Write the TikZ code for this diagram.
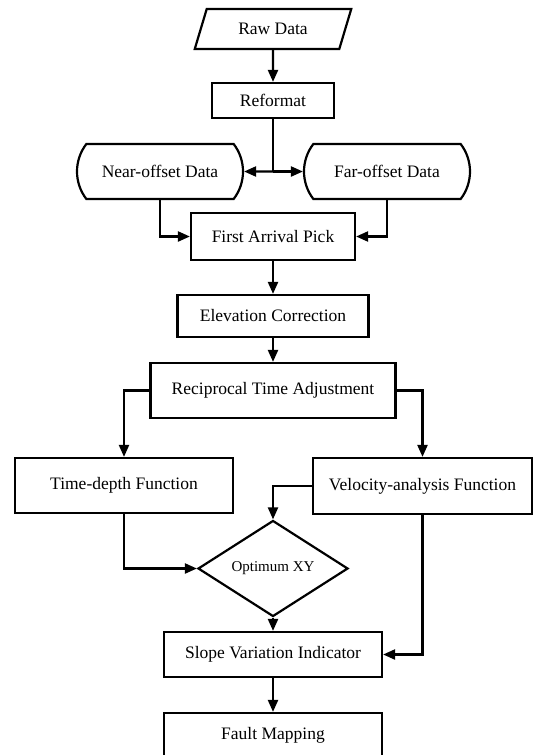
\documentclass[tikz,border=0pt]{standalone}
\usepackage{fontspec}
\setmainfont{Liberation Serif}
\usepackage{tikz}
\usetikzlibrary{
  arrows.meta,
  shapes,
  shapes.geometric,
  shapes.misc,
  positioning,
  calc
}
\tikzset{
  fcnode/.style={
    draw, line width=2.2pt, font=\fontsize{17.5}{20}\selectfont, align=center, inner sep=2pt
  },
  fcbox/.style={fcnode, rectangle},
  fcio/.style={fcnode, trapezium, trapezium left angle=67, trapezium right angle=113,
    trapezium stretches=true},
  fcstore/.style={fcnode, rounded rectangle, rounded rectangle arc length=75},
  fcdecide/.style={fcnode, diamond, font=\fontsize{15}{18}\selectfont, inner sep=0pt},
  flow/.style={-{Triangle[length=12pt, width=10pt]}, line width=2.2pt},
  link/.style={line width=2.2pt}
}

\begin{document}
\begin{tikzpicture}[x=1pt, y=-1pt]
  \useasboundingbox (0,0) rectangle (533,755);
  \node[fcio, minimum width=157pt, minimum height=40pt] (raw) at (273,29) {Raw Data};
  \node[fcbox, minimum width=122pt, minimum height=35pt] (ref) at (273,100.5) {Reformat};
  \node[fcstore, minimum width=170pt, minimum height=55pt] (near) at (160,171.5) {Near-offset Data};
  \node[fcstore, minimum width=170pt, minimum height=55pt] (far) at (387,171.5) {Far-offset Data};
  \coordinate (split) at (ref.south |- near.center);
  \node[fcbox, minimum width=164pt, minimum height=47pt] (fap) at (273,236.5) {First Arrival Pick};
  \node[fcbox, minimum width=191pt, minimum height=42pt] (elev) at (273,316) {Elevation Correction};
  \node[fcbox, minimum width=245pt, minimum height=55pt] (rta) at (273,390.5) {Reciprocal Time Adjustment};
  \node[fcbox, minimum width=218pt, minimum height=55pt] (tdf) at (124,485.5) {Time-depth Function};
  \node[fcbox, minimum width=219pt, minimum height=56pt] (vaf) at (422.5,486) {Velocity-analysis Function};
  \node[fcdecide, minimum width=150pt, minimum height=67pt] (opt) at (273,568.5) {Optimum XY};
  \node[fcbox, minimum width=218pt, minimum height=45pt] (svi) at (273,654.5) {Slope Variation Indicator};
  \node[fcbox, minimum width=218pt, minimum height=44pt] (fm) at (273,735) {Fault Mapping};
  % connectors
  \draw[flow] (raw) -- (ref);
  \draw[link] (ref) -- (split);
  \draw[flow] (split) -- (near);
  \draw[flow] (split) -- (far);
  \draw[flow] (near) |- (fap);
  \draw[flow] (far) |- (fap);
  \draw[flow] (fap) -- (elev);
  \draw[flow] (elev) -- (rta);
  \draw[flow] (rta) -| (tdf);
  \draw[flow] (rta) -| (vaf);
  \draw[flow] (tdf) |- (opt);
  \draw[flow] (vaf) -| (opt);
  \draw[flow] (vaf) |- (svi);
  \draw[flow] (opt) -- (svi);
  \draw[flow] (svi) -- (fm);
\end{tikzpicture}
\end{document}
